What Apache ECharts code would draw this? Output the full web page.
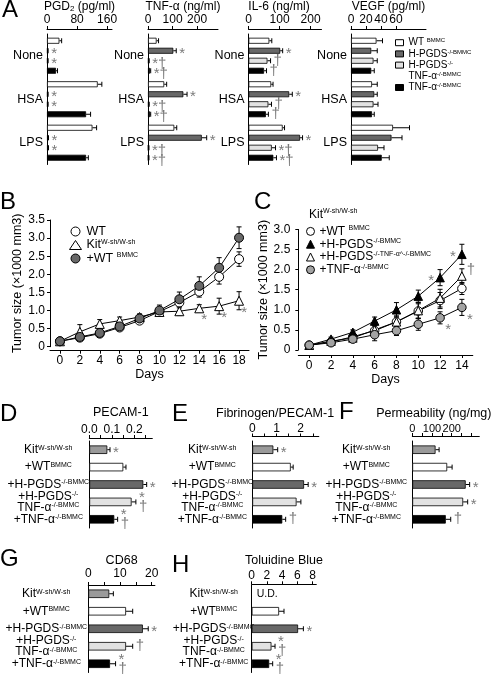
<!DOCTYPE html>
<html>
<head>
<meta charset="utf-8">
<script src="https://cdn.jsdelivr.net/npm/echarts@6.0.0/dist/echarts.min.js"></script>
<style>
html,body{margin:0;padding:0;background:#fff;}
#chart{width:494px;height:677px;}
</style>
</head>
<body>
<div id="chart"></div>
<script>
// ================= DATA =================
// ---- Panel A (rows: WT, H-PGDS-/-, H-PGDS-/-TNF-a-/-, TNF-a-/- ; cols: None, HSA, LPS)
const stimuli = ['None', 'HSA', 'LPS'];
const bmmcGroups = ['WT ^BMMC', 'H-PGDS^-/-BMMC', 'H-PGDS^-/-\nTNF-α^-/-BMMC', 'TNF-α^-/-BMMC'];
const pgd2Values = [[33, 135, 121], [2, 2, 3], [2, 2, 3], [24, 104, 104]];
const pgd2Errors = [[6, 11, 11], [1, 1, 1], [1, 1, 1], [4, 12, 6]];
const pgd2Sig = [['', '', ''], ['*', '*', '*'], ['*', '*', '*'], ['', '', '']];
const pgd2Ticks = [0, 80, 160];
const tnfValues = [[35, 66, 107], [103, 144, 219], [3, 3, 2], [8, 8, 2]];
const tnfErrors = [[8, 10, 10], [12, 15, 20], [2, 2, 2], [3, 3, 2]];
const tnfSig = [['', '', ''], ['*', '*', '*'], ['*†', '*†', '*†'], ['*†', '*†', '*†']];
const tnfTicks = [0, 100, 200];
const il6Values = [[67, 73, 110], [102, 131, 166], [61, 64, 75], [50, 56, 80]];
const il6Errors = [[8, 6, 6], [8, 10, 8], [10, 10, 12], [8, 8, 10]];
const il6Sig = [['', '', ''], ['*', '*', '*'], ['†', '†', '*†'], ['†', '†', '*†']];
const il6Ticks = [0, 100, 200];
const vegfValues = [[34, 28, 56], [27, 31, 54], [30, 30, 36], [27, 28, 41]];
const vegfErrors = [[8, 7, 22], [8, 4, 14], [5, 6, 8], [4, 3, 10]];
const vegfSig = [['', '', ''], ['', '', ''], ['', '', ''], ['', '', '']];
const vegfTicks = [0, 20, 40, 60];

// ---- Panel B
const bDays = [0, 2, 4, 6, 8, 10, 12, 14, 16, 18];
const bNames = ['WT', 'Kit^W-sh/W-sh', '+WT ^BMMC'];
const bWT = [0.15, 0.25, 0.36, 0.53, 0.72, 0.97, 1.22, 1.52, 1.93, 2.42];
const bWTErr = [0.02, 0.03, 0.05, 0.06, 0.06, 0.1, 0.15, 0.15, 0.2, 0.2];
const bKit = [0.15, 0.41, 0.63, 0.72, 0.82, 0.96, 0.98, 1.06, 1.12, 1.27];
const bKitErr = [0.02, 0.2, 0.12, 0.1, 0.08, 0.1, 0.12, 0.1, 0.22, 0.25];
const bKitSig = ['', '', '', '', '', '', '', '*', '*', '*'];
const bWTBMMC = [0.15, 0.27, 0.38, 0.56, 0.78, 1.0, 1.31, 1.68, 2.18, 3.01];
const bWTBMMCErr = [0.02, 0.04, 0.05, 0.08, 0.12, 0.15, 0.2, 0.25, 0.28, 0.3];
const bYTicks = [0, 0.5, 1.0, 1.5, 2.0, 2.5, 3.0, 3.5];

// ---- Panel C
const cDays = [0, 2, 4, 6, 8, 10, 12, 14];
const cHeader = 'Kit^W-sh/W-sh';
const cNames = ['+WT ^BMMC', '+H-PGDS^-/-BMMC', '+H-PGDS^-/-TNF-α^-/-BMMC', '+TNF-α^-/-BMMC'];
const cWT = [0.12, 0.2, 0.33, 0.48, 0.7, 0.97, 1.23, 1.53];
const cWTErr = [0.03, 0.05, 0.08, 0.12, 0.15, 0.18, 0.2, 0.15];
const cHP = [0.12, 0.27, 0.44, 0.72, 1.0, 1.34, 1.8, 2.38];
const cHPErr = [0.03, 0.05, 0.06, 0.1, 0.18, 0.15, 0.2, 0.25];
const cHPSig = ['', '', '', '', '', '', '*', '*'];
const cHT = [0.12, 0.22, 0.3, 0.5, 0.7, 0.98, 1.29, 1.84];
const cHTErr = [0.03, 0.05, 0.06, 0.1, 0.12, 0.2, 0.22, 0.18];
const cHTSig = ['', '', '', '', '', '', '', '†'];
const cTNF = [0.12, 0.18, 0.27, 0.38, 0.48, 0.64, 0.8, 1.06];
const cTNFErr = [0.03, 0.04, 0.06, 0.15, 0.12, 0.15, 0.15, 0.2];
const cTNFSig = ['', '', '', '', '', '', '*', '*'];
const cYTicks = [0, 0.5, 1.0, 1.5, 2.0, 2.5, 3.0];

// ---- Panels D-H (rows: Kit, +WT, +H-PGDS-/-, +H-PGDS-/-TNF-a-/-, +TNF-a-/-)
const recipients = ['Kit^W-sh/W-sh', '+WT^BMMC', '+H-PGDS^-/-BMMC', '+H-PGDS^-/-\nTNF-α^-/-BMMC', '+TNF-α^-/-BMMC'];
const pecam = [0.08, 0.151, 0.24, 0.188, 0.111];
const pecamErr = [0.012, 0.012, 0.015, 0.019, 0.015];
const pecamSig = ['*', '', '*', '*\n†', '*\n†'];
const pecamTicks = [0, 0.05, 0.1, 0.15, 0.2, 0.25];
const pecamLabels = [0, 0.1, 0.2];
const fib = [0.87, 1.59, 2.14, 1.83, 1.24];
const fibErr = [0.18, 0.1, 0.17, 0.18, 0.14];
const fibSig = ['*', '', '*', '', '†'];
const fibTicks = [0, 0.5, 1, 1.5, 2, 2.5];
const fibLabels = [0, 1, 2];
const perm = [118, 177, 271, 258, 170];
const permErr = [18, 25, 20, 23, 25];
const permSig = ['', '', '*', '*', '†'];
const permTicks = [0, 50, 100, 150, 200, 250, 300];
const permLabels = [0, 100, 200];
const cd68 = [6.6, 11.9, 17.2, 11.9, 6.85];
const cd68Err = [1.3, 2.1, 1.7, 2.1, 1.75];
const cd68Sig = ['', '', '*', '†', '*\n†'];
const cd68Ticks = [0, 5, 10, 15, 20];
const cd68Labels = [0, 10, 20];
const tolBlue = [null, 3.6, 6.1, 2.6, 2.3];
const tolBlueErr = [null, 0.65, 0.7, 0.47, 0.46];
const tolBlueSig = ['', '', '*', '*\n†', '*\n†'];
const tolBlueNote = ['U.D.', '', '', '', ''];
const tolBlueTicks = [0, 2, 4, 6, 8];
const tolBlueLabels = [0, 2, 4, 6, 8];

// ================= STYLE =================
const FONT = '"Liberation Sans", Arial, Helvetica, sans-serif';
const BLACK = '#000';
const SIG_COLOR = '#7a7a7a';
const aColors = ['#ffffff', '#686868', '#e2e2e2', '#000000'];
const dhColors = ['#9a9a9a', '#ffffff', '#686868', '#e2e2e2', '#000000'];

function supify(s) { return s.replace(/\^(\S+)/g, '{sup|$1}'); }
function supRich(size) {
  return { sup: { fontSize: size, fontFamily: FONT, color: BLACK, verticalAlign: 'top', lineHeight: size } };
}
function sigText(s, x, y) {
  let dy = 3;
  if (s.indexOf('\n') >= 0) dy = 0.5; else if (s === '†') dy = 0;
  return { type: 'text', silent: true, style: { text: s, x: x, y: y + dy, fill: SIG_COLOR, fontSize: 15, fontFamily: FONT, align: 'left', verticalAlign: 'middle', lineHeight: 9 } };
}

const grids = [], xAxes = [], yAxes = [], series = [];

function hErrorSeries(gi, vals, errs, sigs, slot, nSlots, step, notes) {
  return {
    type: 'custom', xAxisIndex: gi, yAxisIndex: gi, z: 3, silent: true,
    data: vals.map((v, i) => [v == null ? 0 : v, i]),
    renderItem: function (params, api) {
      const i = params.dataIndex;
      const v = vals[i], e = errs[i], s = sigs ? sigs[i] : '';
      const base = api.coord([0, i]);
      const y = base[1] + (slot - (nSlots - 1) / 2) * step;
      const ch = [];
      if (v != null) {
        const p0 = api.coord([v, i]), p1 = api.coord([v + e, i]);
        ch.push({ type: 'line', shape: { x1: p0[0], y1: y, x2: p1[0], y2: y }, style: { stroke: BLACK, lineWidth: 1 } });
        ch.push({ type: 'line', shape: { x1: p1[0], y1: y - 2.5, x2: p1[0], y2: y + 2.5 }, style: { stroke: BLACK, lineWidth: 1 } });
        if (s) ch.push(sigText(s, p1[0] + 3, y));
      } else if (notes && notes[i]) {
        ch.push({ type: 'text', style: { text: notes[i], x: base[0] + 5, y: y, fill: BLACK, fontSize: 10.5, fontFamily: FONT, verticalAlign: 'middle' } });
      }
      return { type: 'group', children: ch };
    }
  };
}

function vErrorSeries(gi, vals, errs) {
  return {
    type: 'custom', xAxisIndex: gi, yAxisIndex: gi, z: 1, silent: true,
    data: vals.map((v, i) => [i, v]),
    renderItem: function (params, api) {
      const i = params.dataIndex, v = vals[i], e = errs[i];
      const t = api.coord([i, v + e]), b = api.coord([i, v - e]);
      const x = t[0], c = 2.5;
      const st = { stroke: BLACK, lineWidth: 1 };
      return { type: 'group', children: [
        { type: 'line', shape: { x1: x, y1: t[1], x2: x, y2: b[1] }, style: st },
        { type: 'line', shape: { x1: x - c, y1: t[1], x2: x + c, y2: t[1] }, style: st },
        { type: 'line', shape: { x1: x - c, y1: b[1], x2: x + c, y2: b[1] }, style: st }
      ] };
    }
  };
}

const axisLineStyle = { show: true, onZero: false, lineStyle: { color: BLACK, width: 1 } };

// ---------- Panel A ----------
const aIds = ['aWT', 'aHP', 'aHT', 'aTNF'];
const aPanels = [
  { vals: pgd2Values, errs: pgd2Errors, sig: pgd2Sig, ticks: pgd2Ticks, max: 173, left: 47, width: 65, name: '{t|PGD}{s|2}{t| (pg/ml)}', pad: 0 },
  { vals: tnfValues, errs: tnfErrors, sig: tnfSig, ticks: tnfTicks, max: 285, left: 148, width: 70, name: '{t|TNF-α (ng/ml)}', pad: 0 },
  { vals: il6Values, errs: il6Errors, sig: il6Sig, ticks: il6Ticks, max: 235, left: 248.5, width: 73, name: '{t|IL-6 (ng/ml)}', pad: 12 },
  { vals: vegfValues, errs: vegfErrors, sig: vegfSig, ticks: vegfTicks, max: 100, left: 351, width: 75, name: '{t|VEGF (pg/ml)}', pad: 0 }
];
aPanels.forEach((p, gi) => {
  grids.push({ left: p.left, top: 34, width: p.width, height: 130.5 });
  xAxes.push({
    gridIndex: gi, type: 'value', position: 'top', offset: 5, min: 0, max: p.max,
    axisLine: axisLineStyle, splitLine: { show: false },
    axisTick: { show: true, length: 3, customValues: p.ticks, lineStyle: { color: BLACK } },
    axisLabel: { customValues: p.ticks, color: BLACK, fontSize: 12, fontFamily: FONT, margin: 3, hideOverlap: false },
    name: p.name, nameLocation: 'middle', nameGap: 15,
    nameTextStyle: { padding: [0, p.pad, 0, 0], rich: {
      t: { fontSize: 12, fontFamily: FONT, color: BLACK },
      s: { fontSize: 8, fontFamily: FONT, color: BLACK, verticalAlign: 'bottom', lineHeight: 12 } } }
  });
  yAxes.push({
    gridIndex: gi, type: 'category', data: stimuli, inverse: true,
    axisLine: axisLineStyle, axisTick: { show: false },
    axisLabel: { color: BLACK, fontSize: 12.5, fontFamily: FONT, margin: 4 }
  });
  for (let k = 0; k < 4; k++) {
    series.push({
      type: 'bar', name: aIds[k], xAxisIndex: gi, yAxisIndex: gi, data: p.vals[k],
      barWidth: 6, barGap: '66.67%', silent: true,
      itemStyle: { color: aColors[k], borderColor: BLACK, borderWidth: 0.8 }
    });
    series.push(hErrorSeries(gi, p.vals[k], p.errs[k], p.sig[k], k, 4, 10));
  }
});
// empty series that only carries the second legend line of the 3rd group
series.push({ type: 'line', name: 'aHT2', xAxisIndex: 0, yAxisIndex: 0, data: [], silent: true });

// ---------- Panels B, C ----------
function lineAxes(gi, days, ticks, max, offX, yNameGap, yLabelMargin, xNameGap, xLabelMargin) {
  xAxes.push({
    gridIndex: gi, type: 'category', data: days.map(String), boundaryGap: true, offset: offX,
    axisLine: axisLineStyle, axisTick: { show: true, alignWithLabel: true, length: 3, lineStyle: { color: BLACK } },
    axisLabel: { color: BLACK, fontSize: 12, fontFamily: FONT, margin: xLabelMargin, interval: 0 },
    name: 'Days', nameLocation: 'middle', nameGap: xNameGap,
    nameTextStyle: { color: BLACK, fontSize: 12.5, fontFamily: FONT }
  });
  yAxes.push({
    gridIndex: gi, type: 'value', min: 0, max: max,
    axisLine: axisLineStyle, splitLine: { show: false },
    axisTick: { show: true, length: 3, customValues: ticks, lineStyle: { color: BLACK } },
    axisLabel: { customValues: ticks, color: BLACK, fontSize: 12, fontFamily: FONT, margin: yLabelMargin, hideOverlap: false,
      formatter: v => (v === 0 ? '0' : v.toFixed(1)) },
    name: 'Tumor size (×1000 mm3)', nameLocation: 'middle', nameGap: yNameGap,
    nameTextStyle: { color: BLACK, fontSize: 12.5, fontFamily: FONT }
  });
}
function lineSeries(gi, id, vals, symbol, size, fill, sigs, sigOffset) {
  const s = {
    type: 'line', name: id, xAxisIndex: gi, yAxisIndex: gi, data: vals, z: 2,
    symbol: symbol, symbolSize: size, showAllSymbol: true, silent: true,
    lineStyle: { color: BLACK, width: 1 },
    itemStyle: { color: fill, borderColor: BLACK, borderWidth: 1 }
  };
  if (sigs) {
    s.label = { show: true, position: 'inside', offset: sigOffset, color: SIG_COLOR, fontSize: 15, fontFamily: FONT,
      formatter: p => sigs[p.dataIndex] };
  }
  return s;
}

// B
grids.push({ left: 50, top: 220, width: 199, height: 126.7 });
lineAxes(4, bDays, bYTicks, 3.5, 4, 22, 5, 14, 4);
series.push(vErrorSeries(4, bWT, bWTErr), vErrorSeries(4, bKit, bKitErr), vErrorSeries(4, bWTBMMC, bWTBMMCErr));
series.push(lineSeries(4, 'bWT', bWT, 'circle', 9, '#ffffff'));
series.push(lineSeries(4, 'bKit', bKit, 'triangle', 9, '#ffffff', bKitSig, [5, 12]));
series.push(lineSeries(4, 'bWTB', bWTBMMC, 'circle', 9, '#686868'));

// C
grids.push({ left: 298.3, top: 229.4, width: 174.5, height: 120.6 });
lineAxes(5, cDays, cYTicks, 3.0, 5, 23, 8, 15, 5);
series.push(vErrorSeries(5, cWT, cWTErr), vErrorSeries(5, cHP, cHPErr), vErrorSeries(5, cHT, cHTErr), vErrorSeries(5, cTNF, cTNFErr));
series.push(lineSeries(5, 'cWT', cWT, 'circle', 8.5, '#ffffff'));
series.push(lineSeries(5, 'cHP', cHP, 'triangle', 8.5, '#000000', cHPSig, [-9, 3]));
series.push(lineSeries(5, 'cHT', cHT, 'triangle', 8.5, '#ffffff', cHTSig, [9, -6]));
series.push(lineSeries(5, 'cTNF', cTNF, 'circle', 8.5, '#a3a3a3', cTNFSig, [8, 12]));

// ---------- Panels D-H ----------
const dhPanels = [
  { vals: pecam, errs: pecamErr, sig: pecamSig, ticks: pecamTicks, labels: pecamLabels, fmt: v => v.toFixed(1), max: 0.28, left: 89.3, width: 63, top: 441, height: 87, offset: 3, name: 'PECAM-1', pad: 0, nameGap: 19, lm: 41, tm: 2, tf: 12 },
  { vals: fib, errs: fibErr, sig: fibSig, ticks: fibTicks, labels: fibLabels, fmt: v => String(v), max: 2.75, left: 252.3, width: 66.5, top: 441, height: 87, offset: 4.5, name: 'Fibrinogen/PECAM-1', pad: 21, nameGap: 16.5, lm: 40, tm: 1.5, tf: 12 },
  { vals: perm, errs: permErr, sig: permSig, ticks: permTicks, labels: permLabels, fmt: v => String(v), max: 340, left: 412.3, width: 67, top: 441, height: 87, offset: 5, name: 'Permeability (ng/mg)', pad: 24, nameGap: 16, lm: 46, tm: 1.5, tf: 11 },
  { vals: cd68, errs: cd68Err, sig: cd68Sig, ticks: cd68Ticks, labels: cd68Labels, fmt: v => String(v), max: 21, left: 88.3, width: 66.6, top: 585, height: 87.5, offset: 0, name: 'CD68', pad: 0, nameGap: 18, lm: 42, tm: 5, tf: 12 },
  { vals: tolBlue, errs: tolBlueErr, sig: tolBlueSig, note: tolBlueNote, ticks: tolBlueTicks, labels: tolBlueLabels, fmt: v => String(v), max: 8.5, left: 251.7, width: 64.6, top: 585, height: 87.5, offset: 0.7, name: 'Toluidine Blue', pad: 0, nameGap: 17, lm: 38, tm: 2.5, tf: 12 }
];
dhPanels.forEach((p, j) => {
  const gi = 6 + j;
  grids.push({ left: p.left, top: p.top, width: p.width, height: p.height });
  xAxes.push({
    gridIndex: gi, type: 'value', position: 'top', offset: p.offset, min: 0, max: p.max,
    axisLine: axisLineStyle, splitLine: { show: false },
    axisTick: { show: true, length: 3, customValues: p.ticks, lineStyle: { color: BLACK } },
    axisLabel: { customValues: p.labels, formatter: p.fmt, color: BLACK, fontSize: p.tf, fontFamily: FONT, margin: p.tm, hideOverlap: false },
    name: p.name, nameLocation: 'middle', nameGap: p.nameGap,
    nameTextStyle: { color: BLACK, fontSize: 12.5, fontFamily: FONT, padding: [0, p.pad, 0, 0] }
  });
  yAxes.push({
    gridIndex: gi, type: 'category', data: recipients, inverse: true,
    axisLine: axisLineStyle, axisTick: { show: false },
    axisLabel: { color: BLACK, fontSize: 12, fontFamily: FONT, margin: p.lm, align: 'center', lineHeight: 11,
      formatter: v => supify(v), rich: supRich(7) }
  });
  series.push({
    type: 'bar', name: 'dh' + j, xAxisIndex: gi, yAxisIndex: gi, barWidth: 8.5, silent: true,
    data: p.vals.map((v, i) => ({ value: v, itemStyle: { color: dhColors[i] } })),
    itemStyle: { borderColor: BLACK, borderWidth: 0.8 }
  });
  series.push(hErrorSeries(gi, p.vals, p.errs, p.sig, 0, 1, 0, p.note));
});

// ---------- Titles & legends ----------
const letterStyle = { fontSize: 24, fontWeight: 'normal', color: BLACK, fontFamily: FONT };
const letters = [['A', 2, -2], ['B', 0, 190], ['C', 254, 190], ['D', 0, 402], ['E', 172, 402], ['F', 339, 400], ['G', 0, 547], ['H', 172, 553]];
const titles = letters.map(l => ({ text: l[0], left: l[1], top: l[2], padding: 0, textStyle: letterStyle }));
titles.push({ text: supify(cHeader), left: 309, top: 208, padding: 0,
  textStyle: { fontSize: 12, fontWeight: 'normal', color: BLACK, fontFamily: FONT, lineHeight: 13, rich: supRich(7) } });

const legendText = {};
aIds.forEach((id, k) => { legendText[id] = supify(bmmcGroups[k].split('\n')[0]); });
legendText['aHT2'] = supify(bmmcGroups[2].split('\n')[1]);
['bWT', 'bKit', 'bWTB'].forEach((id, k) => { legendText[id] = supify(bNames[k]); });
['cWT', 'cHP', 'cHT', 'cTNF'].forEach((id, k) => { legendText[id] = supify(cNames[k]); });

const aLegendData = aIds.map((id, k) => ({ name: id, icon: 'rect', itemStyle: { color: aColors[k], borderColor: BLACK, borderWidth: 1 } }));
aLegendData.splice(3, 0, { name: 'aHT2', icon: 'rect', itemStyle: { color: 'rgba(0,0,0,0)', borderColor: 'rgba(0,0,0,0)', borderWidth: 0 } });

const legends = [
  {
    left: 395, top: 37.7, orient: 'vertical', itemWidth: 8, itemHeight: 6, itemGap: 1.2, selectedMode: false, padding: 0,
    formatter: n => legendText[n],
    textStyle: { fontSize: 10, fontFamily: FONT, color: BLACK, lineHeight: 10, rich: supRich(6) },
    data: aLegendData
  },
  {
    left: 69, top: 225, orient: 'vertical', itemWidth: 12, itemHeight: 9, itemGap: 0.5, selectedMode: false, padding: 0,
    formatter: n => legendText[n],
    textStyle: { fontSize: 12.5, fontFamily: FONT, color: BLACK, lineHeight: 13, rich: supRich(7) },
    data: [
      { name: 'bWT', icon: 'circle', itemStyle: { color: '#ffffff', borderColor: BLACK, borderWidth: 1 } },
      { name: 'bKit', icon: 'triangle', itemStyle: { color: '#ffffff', borderColor: BLACK, borderWidth: 1 } },
      { name: 'bWTB', icon: 'circle', itemStyle: { color: '#686868', borderColor: BLACK, borderWidth: 1 } }
    ]
  },
  {
    left: 306, top: 225, orient: 'vertical', itemWidth: 8, itemHeight: 8, itemGap: 0, selectedMode: false, padding: 0,
    formatter: n => legendText[n],
    textStyle: { fontSize: 12, fontFamily: FONT, color: BLACK, lineHeight: 12.8, rich: supRich(7) },
    data: [
      { name: 'cWT', icon: 'circle', itemStyle: { color: '#ffffff', borderColor: BLACK, borderWidth: 1 } },
      { name: 'cHP', icon: 'triangle', itemStyle: { color: '#000000', borderColor: BLACK, borderWidth: 1 } },
      { name: 'cHT', icon: 'triangle', itemStyle: { color: '#ffffff', borderColor: BLACK, borderWidth: 1 } },
      { name: 'cTNF', icon: 'circle', itemStyle: { color: '#a3a3a3', borderColor: BLACK, borderWidth: 1 } }
    ]
  }
];

const chart = echarts.init(document.getElementById('chart'), null, { renderer: 'canvas' });
chart.setOption({
  animation: false,
  backgroundColor: '#ffffff',
  textStyle: { fontFamily: FONT },
  title: titles,
  legend: legends,
  grid: grids,
  xAxis: xAxes,
  yAxis: yAxes,
  series: series
});
</script>
</body>
</html>
